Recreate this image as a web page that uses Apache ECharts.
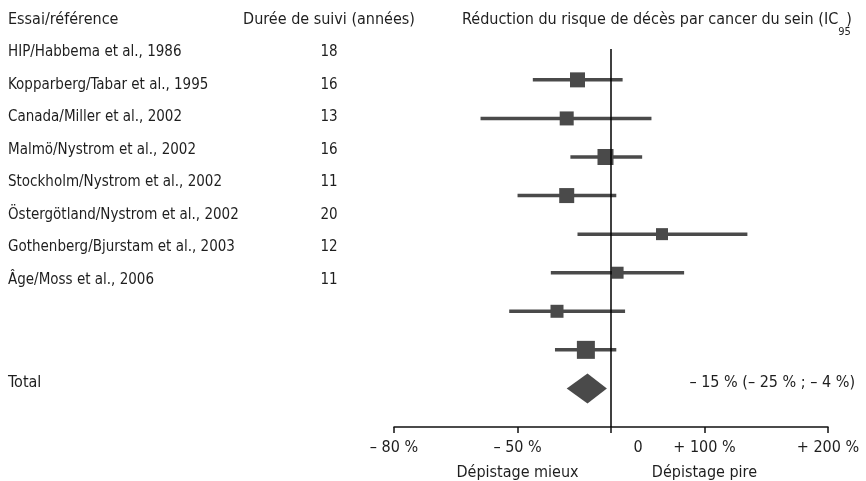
<!DOCTYPE html>
<html>
<head>
<meta charset="utf-8">
<title>Dépistage du cancer du sein</title>
<script src="https://cdn.jsdelivr.net/npm/echarts@6/dist/echarts.min.js"></script>
<style>
  html, body { margin: 0; padding: 0; background: #fff; }
  #forestPlot { width: 866px; height: 481px; }
</style>
</head>
<body>
<div id="forestPlot"></div>
<script>
// essais et durée de suivi
const studies = [
  'HIP/Habbema et al., 1986',
  'Kopparberg/Tabar et al., 1995',
  'Canada/Miller et al., 2002',
  'Malmö/Nystrom et al., 2002',
  'Stockholm/Nystrom et al., 2002',
  'Östergötland/Nystrom et al., 2002',
  'Gothenberg/Bjurstam et al., 2003',
  'Âge/Moss et al., 2006'
];
const years = ['18', '16', '13', '16', '11', '20', '12', '11'];

// risque relatif (point, IC95 bas, IC95 haut)
const rrEst  = [0.78, 0.72, 0.96, 0.72, 1.46, 1.05, 0.67, 0.83];
const rrLow  = [0.56, 0.38, 0.74, 0.50, 0.78, 0.64, 0.47, 0.66];
const rrHigh = [1.09, 1.35, 1.26, 1.04, 2.75, 1.72, 1.11, 1.04];
const weights = [15, 14, 16, 15, 12, 12, 13, 18];

const totalEst = 0.84;
const totalLow = 0.72;
const totalHigh = 0.97;
const totalText = '– 15 % (– 25 % ; – 4 %)';

// axe des x
const tickRR = [0.2, 0.5, 1, 2, 5];
const tickLabels = ['– 80 %', '– 50 %', '0', '+ 100 %', '+ 200 %'];
const tickNotes = ['', 'Dépistage mieux', '', 'Dépistage pire', ''];

const FONT = "'DejaVu Sans Condensed', 'Liberation Sans Narrow', sans-serif";
const FS = 15;
const FH = 16;
const TXT = '#1e1e1e';
const MARK = '#4a4a4a';

let myChart = echarts.init(document.getElementById('forestPlot'));

let tickVals = tickRR.map(v => Math.log(v));

function tickFormatter(v) {
  let best = 0;
  for (let i = 1; i < tickVals.length; i++) {
    if (Math.abs(tickVals[i] - v) < Math.abs(tickVals[best] - v)) best = i;
  }
  let t = tickLabels[best];
  if (tickRR[best] === 1) t = '{z|' + t + '}';
  if (tickNotes[best]) t += '\n{b|' + tickNotes[best] + '}';
  return t;
}

let whiskerData = [];
let squareData = [];
for (let i = 0; i < studies.length; i++) {
  whiskerData.push([Math.log(rrLow[i]), Math.log(rrHigh[i]), i + 1]);
  squareData.push([Math.log(rrEst[i]), i + 1]);
}

let txt = { fontFamily: FONT, fontSize: FH, fontWeight: 'normal', color: TXT, lineHeight: 20 };

let option = {
  animation: false,
  backgroundColor: '#fff',
  textStyle: { fontFamily: FONT },
  title: [
    { text: 'Essai/référence', left: 8, top: 10, padding: 0, textStyle: txt },
    { text: 'Durée de suivi (années)', left: 329, textAlign: 'center', top: 10, padding: 0, textStyle: txt },
    { text: '{m|Réduction du risque de décès par cancer du sein (IC}{s|95}{m|)}', left: 462, top: 12, padding: 0,
      textStyle: {
        fontFamily: FONT, fontSize: FH, fontWeight: 'normal', color: TXT,
        rich: {
          m: { fontFamily: FONT, fontSize: FH, fontWeight: 'normal', color: TXT, lineHeight: 18, verticalAlign: 'top' },
          s: { fontFamily: FONT, fontSize: 11, fontWeight: 'normal', color: TXT, lineHeight: 26, verticalAlign: 'bottom', width: 8, align: 'left' }
        }
      } },
    { text: 'Total', left: 8, top: 373, padding: 0, textStyle: txt },
    { text: totalText, right: 11, top: 373, padding: 0, textStyle: txt }
  ],
  grid: [
    { left: 8, width: 321, top: 36, height: 260, containLabel: false, outerBoundsMode: 'none' },
    { left: 394, right: 38, top: 49, bottom: 54, containLabel: false, outerBoundsMode: 'none' }
  ],
  xAxis: [
    { gridIndex: 0, type: 'value', show: false },
    {
      gridIndex: 1, type: 'value',
      min: Math.log(0.2), max: Math.log(5),
      splitLine: { show: false },
      axisLine: { show: true, onZero: false, lineStyle: { color: '#111', width: 1.5 } },
      axisTick: { show: true, customValues: tickVals, length: 6, lineStyle: { color: '#111', width: 1.5 } },
      axisLabel: {
        customValues: tickVals,
        formatter: tickFormatter,
        hideOverlap: false,
        margin: 11,
        fontFamily: FONT, fontSize: FH, color: TXT, lineHeight: 20,
        rich: {
          z: { fontFamily: FONT, fontSize: FH, color: TXT, lineHeight: 20, padding: [0, 0, 0, 54] },
          b: { fontFamily: FONT, fontSize: FH, color: TXT, lineHeight: 30 }
        }
      }
    }
  ],
  yAxis: [
    {
      gridIndex: 0, type: 'category', inverse: true, data: studies,
      axisLine: { show: false }, axisTick: { show: false }, splitLine: { show: false },
      axisLabel: { align: 'left', margin: 0, fontFamily: FONT, fontSize: FS, color: TXT }
    },
    {
      gridIndex: 0, type: 'category', position: 'right', inverse: true, data: years,
      axisLine: { show: false }, axisTick: { show: false }, splitLine: { show: false },
      axisLabel: { align: 'center', margin: 0, fontFamily: FONT, fontSize: FS, color: TXT }
    },
    { gridIndex: 1, type: 'value', inverse: true, min: 0.2, max: 10, show: false }
  ],
  series: [
    {
      type: 'custom', xAxisIndex: 1, yAxisIndex: 2,
      data: whiskerData,
      encode: { x: [0, 1], y: 2 },
      renderItem: function (params, api) {
        let a = api.coord([api.value(0), api.value(2)]);
        let b = api.coord([api.value(1), api.value(2)]);
        return {
          type: 'line',
          shape: { x1: a[0], y1: a[1], x2: b[0], y2: b[1] },
          style: { stroke: MARK, lineWidth: 3.5 }
        };
      },
      z: 2
    },
    {
      type: 'scatter', xAxisIndex: 1, yAxisIndex: 2,
      data: squareData,
      symbol: 'rect',
      symbolSize: function (val, params) { return weights[params.dataIndex]; },
      itemStyle: { color: MARK, opacity: 1 },
      z: 3,
      markLine: {
        silent: true, symbol: 'none', animation: false,
        label: { show: false },
        lineStyle: { color: '#000', width: 1.5, type: 'solid' },
        data: [{ xAxis: 0 }]
      }
    },
    {
      type: 'custom', xAxisIndex: 1, yAxisIndex: 2,
      data: [[Math.log(totalLow), Math.log(totalEst), Math.log(totalHigh), 9]],
      encode: { x: [0, 1, 2], y: 3 },
      renderItem: function (params, api) {
        let l = api.coord([api.value(0), api.value(3)]);
        let m = api.coord([api.value(1), api.value(3)]);
        let r = api.coord([api.value(2), api.value(3)]);
        return {
          type: 'polygon',
          shape: { points: [[l[0], l[1]], [m[0], m[1] - 15], [r[0], r[1]], [m[0], m[1] + 15]] },
          style: { fill: MARK }
        };
      },
      z: 3
    }
  ]
};

myChart.setOption(option);
</script>
</body>
</html>
